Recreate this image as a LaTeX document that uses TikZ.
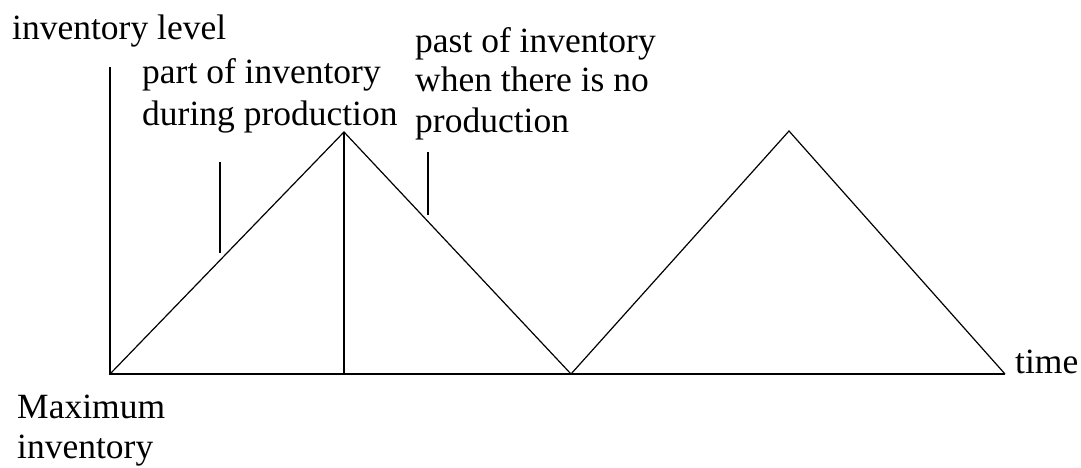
\documentclass[tikz,border=0pt]{standalone}
\usepackage{fontspec}
\setmainfont{Liberation Serif}
\usetikzlibrary{positioning}
\tikzset{
  lbl/.style={anchor=base west, align=left, inner sep=0pt, font=\fontsize{35.5}{40}\selectfont},
  axis/.style={line width=1.6pt},
  saw/.style={line width=1.2pt}
}
\begin{document}
\begin{tikzpicture}[x=1pt,y=-1pt]
        \useasboundingbox (0,0) rectangle (1081,468);
        % axes
        \coordinate (O) at (110,374);
        \coordinate (ytop) at (110,67);
        \coordinate (xend) at (1005,374);
        \draw[axis] (ytop) -- (O) -- (xend);
        % inventory cycles
        \coordinate (peak1) at (344,132);
        \coordinate (foot1) at (344,374);
        \coordinate (valley) at (571,374);
        \coordinate (peak2) at (789,131);
        \draw[saw] (O) -- (peak1) -- (valley) -- (peak2) -- (xend);
        \draw[axis] (peak1) -- (foot1);
        % pointers
        \coordinate (tickA) at (220,162);
        \coordinate (tickAend) at (220,253);
        \coordinate (tickB) at (428,152);
        \coordinate (tickBend) at (428,215);
        \draw[axis] (tickA) -- (tickAend);
        \draw[axis] (tickB) -- (tickBend);
        % labels (base = baseline of the last line)
        \node[lbl] (lvl) at (12,40) {inventory level};
        \node[lbl, font=\fontsize{35.5}{42}\selectfont] (prodtxt) at (142,125) {part of inventory\\during production};
        \node[lbl] (noprodtxt) at (415,132) {past of inventory\\when there is no\\production};
        \node[lbl] (timetxt) at (1015,373) {time};
        \node[lbl] (maxtxt) at (17,458) {Maximum\\inventory};
\end{tikzpicture}
\end{document}
